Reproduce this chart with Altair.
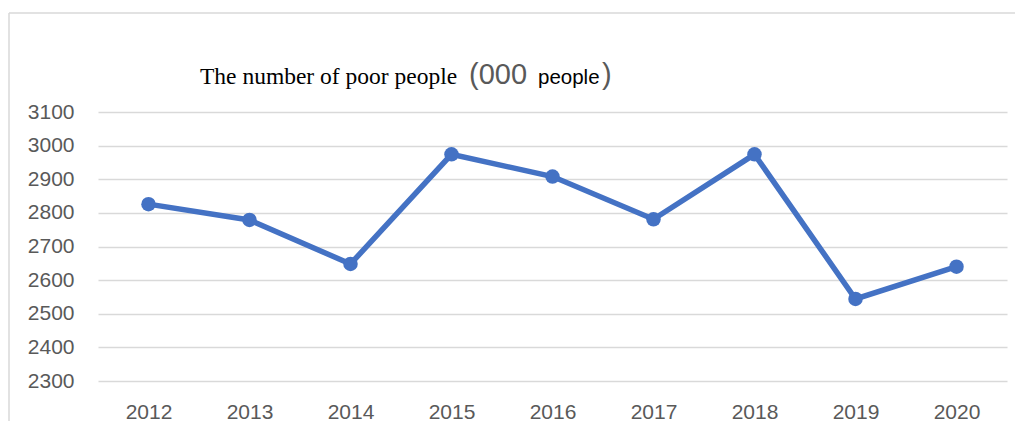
import altair as alt
import pandas as pd

years = ["2012", "2013", "2014", "2015", "2016", "2017", "2018", "2019", "2020"]
poor = [2826, 2779, 2648, 2974, 2908, 2781, 2974, 2544, 2640]
y_ticks = [2300, 2400, 2500, 2600, 2700, 2800, 2900, 3000, 3100]
title_main = "The number of poor people"
title_open = "(000"
title_unit = "people"
title_close = ")"

df = pd.DataFrame({"year": years, "value": poor})

LINE = "#4472C4"
GRID = "#d9d9d9"
LABEL = "#595959"

x_enc = alt.X("year:O", scale=alt.Scale(type="point", padding=0.5),
              axis=alt.Axis(title=None, labelAngle=0, labelFontSize=21, labelColor=LABEL,
                            labelFont="Liberation Sans", ticks=False, tickSize=0, domain=False,
                            labelPadding=20, grid=False, labelOverlap=False))
y_enc = alt.Y("value:Q", scale=alt.Scale(domain=[2300, 3100], nice=False, zero=False),
              axis=alt.Axis(title=None, values=y_ticks, format="d", labelOverlap=False,
                            tickCount=9, labelFontSize=21, labelColor=LABEL,
                            labelFont="Liberation Sans", ticks=False, tickSize=0, domain=False,
                            labelPadding=24, gridColor=GRID, gridWidth=1.5))

line = alt.Chart(df).mark_line(
    color=LINE, strokeWidth=5.5,
    point=alt.OverlayMarkDef(filled=True, color=LINE, size=210, opacity=1),
).encode(x=x_enc, y=y_enc)

one = pd.DataFrame({"a": [0]})
border_left = alt.Chart(one).mark_rule(color=GRID, strokeWidth=1.5).encode(
    x=alt.value(-89), y=alt.value(-99), y2=alt.value(330))
border_top = alt.Chart(one).mark_rule(color=GRID, strokeWidth=1.5).encode(
    x=alt.value(-89), x2=alt.value(930), y=alt.value(-99))

def title_piece(txt, x, size, font, color):
    return alt.Chart(pd.DataFrame({"t": [txt]})).mark_text(
        align="left", baseline="alphabetic", fontSize=size, font=font, color=color
    ).encode(x=alt.value(x), y=alt.value(-28), text="t:N")

t1 = title_piece(title_main, 102, 23.5, "Liberation Serif", "#000000")
t2 = title_piece(title_open, 371, 29, "Liberation Sans", LABEL)
t3 = title_piece(title_unit, 440, 20.5, "Liberation Sans", "#000000")
t4 = title_piece(title_close, 504, 29, "Liberation Sans", LABEL)

chart = alt.layer(line, border_left, border_top, t1, t2, t3, t4).properties(
    width=909, height=269,
    autosize=alt.AutoSizeParams(type="none"),
    padding={"left": 90, "top": 104, "right": 8, "bottom": 40},
).configure_view(stroke=None)

chart.save("out.html", embed_options={"renderer": "svg", "actions": False})
